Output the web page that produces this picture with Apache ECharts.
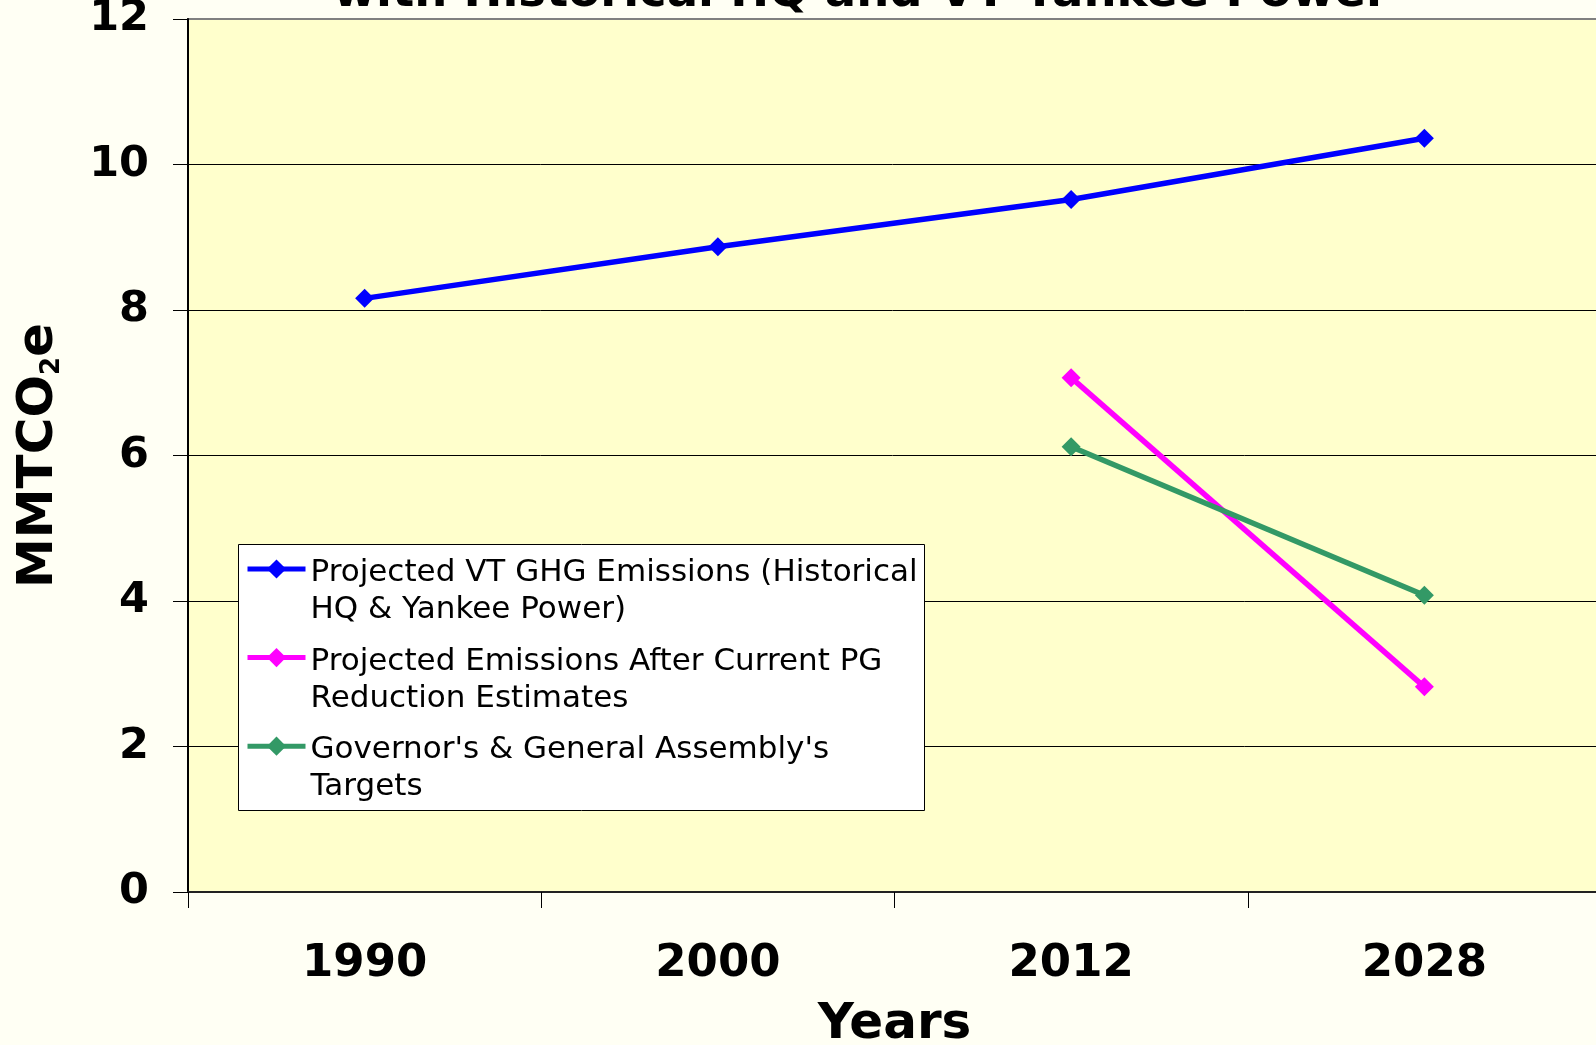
<!DOCTYPE html>
<html>
<head>
<meta charset="utf-8">
<script src="https://cdn.jsdelivr.net/npm/echarts@6/dist/echarts.min.js"></script>
<style>
html,body{margin:0;padding:0;background:#FFFFF4;}
#chart{width:1596px;height:1045px;}
</style>
</head>
<body>
<div id="chart"></div>
<script>
const categories = ['1990', '2000', '2012', '2028'];
const seriesNames = [
  'Projected VT GHG Emissions (Historical HQ & Yankee Power)',
  'Projected Emissions After Current PG Reduction Estimates',
  "Governor's & General Assembly's Targets"
];
const legendLines = [
  ['Projected VT GHG Emissions (Historical', 'HQ & Yankee Power)'],
  ['Projected Emissions After Current PG', 'Reduction Estimates'],
  ["Governor's & General Assembly's", 'Targets']
];
const projectedVT = [8.16, 8.87, 9.52, 10.36];
const afterPG = ['-', '-', 7.07, 2.82];
const targets = ['-', '-', 6.12, 4.08];
const yTicks = [0, 2, 4, 6, 8, 10, 12];
const titleText = 'with Historical HQ and VT Yankee Power';
const yName = 'MMTCO{s|2}e';
const xName = 'Years';

const colors = ['#0000FF', '#FF00FF', '#339966'];
const LH = 37;
const PAD = LH + 8;
const boldFont = 'DejaVu Sans';

const chart = echarts.init(document.getElementById('chart'), null, {renderer: 'canvas'});
const mkSeries = (i, data) => ({
  name: seriesNames[i],
  type: 'line',
  data: data,
  symbol: 'diamond',
  symbolSize: 19,
  showSymbol: true,
  color: colors[i],
  lineStyle: {width: 5.5, color: colors[i]},
  itemStyle: {color: colors[i]},
  z: 3,
  animation: false,
  emphasis: {disabled: true}
});

chart.setOption({
  backgroundColor: '#FFFFF4',
  animation: false,
  grid: {
    left: 188, top: 19, width: 1413, height: 873,
    show: true, backgroundColor: '#FFFFCC', borderColor: '#808080', borderWidth: 2,
    outerBoundsMode: 'none', containLabel: false
  },
  graphic: [
    {
      type: 'text', z: 10,
      x: 861, y: 17,
      style: {
        text: titleText,
        font: 'bold 46.5px "DejaVu Sans"',
        fill: '#000',
        align: 'center',
        verticalAlign: 'bottom'
      }
    },
    {
      type: 'rect', z: 3,
      shape: {x: 238.5, y: 544.5, width: 686, height: 266},
      style: {fill: '#FFFFFF', stroke: '#000', lineWidth: 1}
    }
  ],
  legend: {
    show: true,
    orient: 'vertical',
    left: 245, top: 569 - (2 * LH + PAD) / 2,
    padding: 0,
    itemGap: 88.6 - (2 * LH + PAD),
    itemWidth: 58, itemHeight: 24,
    selectedMode: false,
    z: 5,
    data: seriesNames,
    lineStyle: {width: 5},
    formatter: (n) => legendLines[seriesNames.indexOf(n)].map(s => '{t|' + s + '}').join('\n'),
    textStyle: {
      fontFamily: 'DejaVu Sans', fontSize: 31, color: '#000',
      lineHeight: LH, padding: [PAD, 0, 0, 0],
      rich: {t: {fontFamily: 'DejaVu Sans', fontSize: 31, color: '#000', lineHeight: LH}}
    }
  },
  xAxis: {
    type: 'category',
    data: categories,
    boundaryGap: true,
    name: xName,
    nameLocation: 'middle',
    nameGap: 108,
    nameTextStyle: {fontFamily: boldFont, fontWeight: 'bold', fontSize: 50, color: '#000'},
    axisLine: {show: true, lineStyle: {color: '#222', width: 2}},
    axisTick: {show: true, interval: 0, alignWithLabel: false, length: 16, lineStyle: {color: '#000', width: 1}},
    axisLabel: {interval: 0, margin: 50, fontFamily: boldFont, fontWeight: 'bold', fontSize: 45, color: '#000'},
    splitLine: {show: false}
  },
  yAxis: {
    type: 'value',
    min: yTicks[0], max: yTicks[yTicks.length - 1], interval: 2,
    name: yName,
    nameLocation: 'middle',
    nameRotate: 90,
    nameGap: 123,
    nameTextStyle: {
      fontFamily: boldFont, fontWeight: 'bold', fontSize: 50, color: '#000',
      rich: {s: {fontFamily: boldFont, fontWeight: 'bold', fontSize: 26, color: '#000', padding: [26, 0, 0, 0]}}
    },
    axisLine: {show: true, lineStyle: {color: '#000', width: 2}},
    axisTick: {show: true, length: 15, lineStyle: {color: '#000', width: 1}},
    axisLabel: {margin: 39, fontFamily: boldFont, fontWeight: 'bold', fontSize: 43, color: '#000', showMinLabel: true, showMaxLabel: true},
    splitLine: {show: true, lineStyle: {color: ['#000', '#000', '#000', '#000', '#000', '#000', '#808080'], width: 1}}
  },
  series: [
    mkSeries(0, projectedVT),
    mkSeries(1, afterPG),
    mkSeries(2, targets)
  ]
});
</script>
</body>
</html>
